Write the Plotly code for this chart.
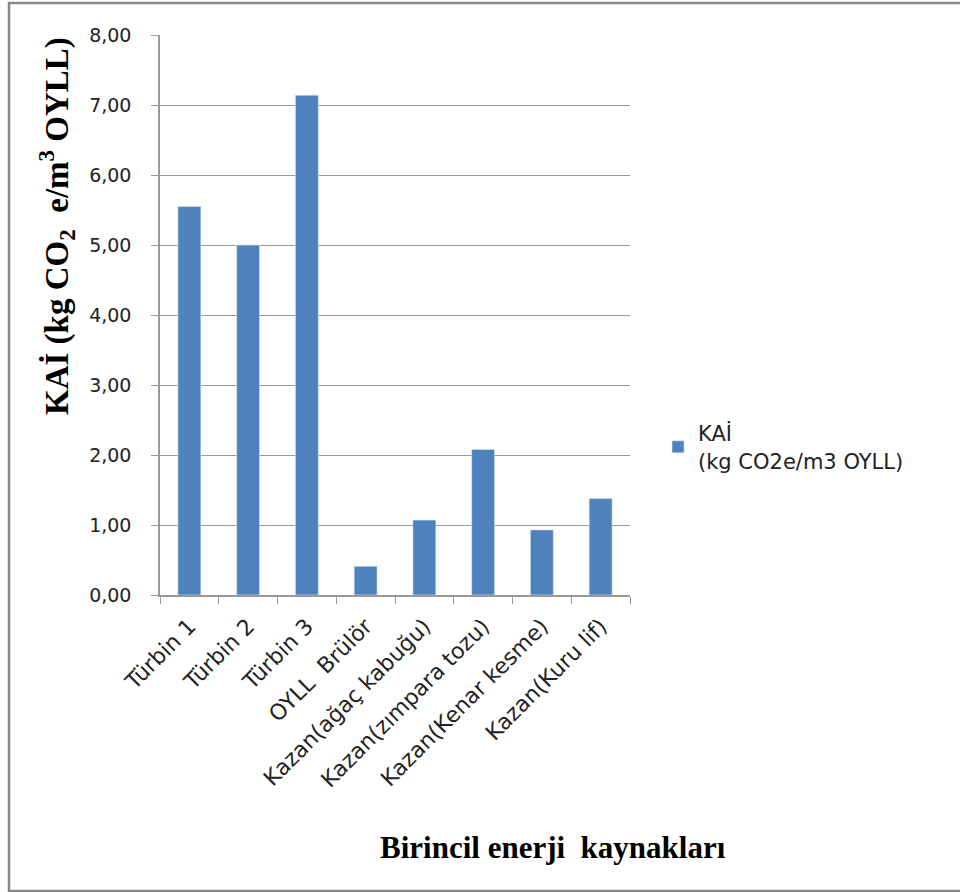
import plotly.graph_objects as go

categories = ["Türbin 1", "Türbin 2", "Türbin 3", "OYLL  Brülör",
              "Kazan(ağaç kabuğu)", "Kazan(zımpara tozu)",
              "Kazan(Kenar kesme)", "Kazan(Kuru lif)"]
values = [5.55, 5.00, 7.14, 0.41, 1.07, 2.08, 0.93, 1.38]
y_ticks = [0, 1, 2, 3, 4, 5, 6, 7, 8]
y_tick_labels = ["0,00", "1,00", "2,00", "3,00", "4,00", "5,00", "6,00", "7,00", "8,00"]
series_name = "KAİ<br>(kg CO2e/m3 OYLL)"

W, H = 960, 892
L, R, T, B = 160, 330, 35, 297
pw, ph = W - L - R, H - T - B

def px(x):
    return (x - L) / pw

def py(y):
    return (H - B - y) / ph

SANS = "DejaVu Sans"
SERIF = "Liberation Serif"

fig = go.Figure()
fig.add_trace(go.Bar(
    x=categories, y=values, name=series_name,
    marker=dict(color="#4F81BD", line=dict(color="#DCE6F2", width=0.6)),
    showlegend=True,
))

fig.update_layout(
    width=W, height=H,
    margin=dict(l=L, r=R, t=T, b=B),
    paper_bgcolor="white", plot_bgcolor="white",
    bargap=0.61,
    showlegend=True,
    legend=dict(x=px(658), y=py(413), xanchor="left", yanchor="top",
                font=dict(family=SANS, size=21, color="#222"),
                bgcolor="rgba(0,0,0,0)"),
    xaxis=dict(
        type="category", tickangle=-45,
        tickfont=dict(family=SANS, size=22, color="#222"),
        ticks="outside", tickson="boundaries", ticklen=7, tickcolor="#999",
        ticklabelstandoff=8,
        showline=True, linecolor="#999", linewidth=1.5,
        showgrid=False, zeroline=False,
    ),
    yaxis=dict(
        range=[0, 8], tickvals=y_ticks, ticktext=y_tick_labels,
        tickfont=dict(family=SANS, size=19, color="#222"),
        ticks="outside", ticklen=7, tickcolor="#999",
        ticklabelstandoff=16,
        showline=True, linecolor="#999", linewidth=1.5,
        showgrid=True, gridcolor="#999", gridwidth=1.2,
        zeroline=False,
    ),
    annotations=[
        dict(text="<b>KAİ (kg CO<sub>2</sub>  e/m<sup>3</sup> OYLL)</b>",
             x=px(56), y=py(226), xref="paper", yref="paper",
             textangle=-90, showarrow=False, xanchor="center", yanchor="middle",
             font=dict(family=SERIF, size=33, color="black")),
        dict(text="<b>Birincil enerji  kaynakları</b>",
             x=px(553), y=py(847), xref="paper", yref="paper",
             showarrow=False, xanchor="center", yanchor="middle",
             font=dict(family=SERIF, size=31, color="black")),
    ],
    shapes=[
        dict(type="rect", xref="paper", yref="paper",
             x0=px(9), x1=px(975), y0=py(891), y1=py(3),
             line=dict(color="#888", width=2.5), layer="below"),
    ],
)

fig.write_html("out.html",
               config={"displayModeBar": False},
               post_script="document.body.style.margin='0';document.body.style.overflow='hidden';")
